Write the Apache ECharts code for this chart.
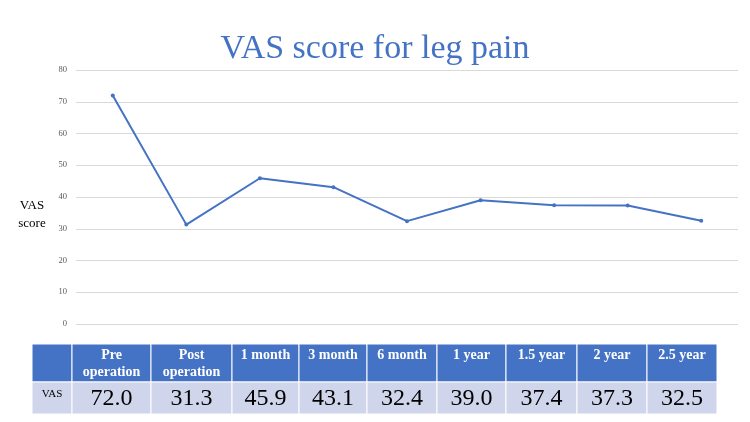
<!DOCTYPE html>
<html>
<head>
<meta charset="utf-8">
<script src="https://cdn.jsdelivr.net/npm/echarts@6/dist/echarts.min.js"></script>
<style>
html,body{margin:0;padding:0;background:#fff;}
#c{width:750px;height:422px;}
</style>
</head>
<body>
<div id="c"></div>
<script>
var categories = ['Pre operation', 'Post operation', '1 month', '3 month', '6 month', '1 year', '1.5 year', '2 year', '2.5 year'];
var headerLabels = ['Pre\noperation', 'Post\noperation', '1 month', '3 month', '6 month', '1 year', '1.5 year', '2 year', '2.5 year'];
var vasValues = [72.0, 31.3, 45.9, 43.1, 32.4, 39.0, 37.4, 37.3, 32.5];
var yTicks = [0, 10, 20, 30, 40, 50, 60, 70, 80];
var rowLabel = 'VAS';

var SERIF = '"Liberation Serif", "DejaVu Serif", serif';
var BLUE = '#4472C4';

// table layout
var tableLeft = 32, tableTop = 344, headH = 38, rowH = 32;
var colW = [40, 79, 81, 67, 68, 70, 69, 71, 70, 70];

var graphics = [];
var x = tableLeft;
for (var i = 0; i < colW.length; i++) {
  graphics.push({type: 'rect', shape: {x: x, y: tableTop, width: colW[i], height: headH},
    style: {fill: BLUE, stroke: '#fff', lineWidth: 1}});
  graphics.push({type: 'rect', shape: {x: x, y: tableTop + headH, width: colW[i], height: rowH},
    style: {fill: '#CFD5EA', stroke: '#fff', lineWidth: 1}});
  if (i === 0) {
    graphics.push({type: 'text', x: x + colW[i] / 2, y: tableTop + headH + 12,
      style: {text: rowLabel, fontFamily: SERIF, fontSize: 11, fill: '#000', align: 'center', verticalAlign: 'middle'}});
  } else {
    graphics.push({type: 'text', x: x + colW[i] / 2, y: tableTop + 3,
      style: {text: headerLabels[i - 1], fontFamily: SERIF, fontSize: 14, fontWeight: 'bold', fill: '#fff',
        align: 'center', verticalAlign: 'top', lineHeight: 17}});
    graphics.push({type: 'text', x: x + colW[i] / 2, y: tableTop + headH + rowH / 2 + 1,
      style: {text: vasValues[i - 1].toFixed(1), fontFamily: SERIF, fontSize: 24, fill: '#000',
        align: 'center', verticalAlign: 'middle'}});
  }
  x += colW[i];
}
graphics.push({type: 'text', x: 32, y: 215,
  style: {text: 'VAS\nscore', fontFamily: SERIF, fontSize: 13, fill: '#000', align: 'center', verticalAlign: 'middle', lineHeight: 18}});

var chart = echarts.init(document.getElementById('c'));
chart.setOption({
  backgroundColor: '#fff',
  animation: false,
  title: {
    text: 'VAS score for leg pain', left: 'center', top: 27,
    textStyle: {fontFamily: SERIF, fontSize: 34, fontWeight: 'normal', color: BLUE}
  },
  grid: {left: 76, right: 12, top: 70, bottom: 98},
  xAxis: {
    type: 'category', data: categories, boundaryGap: true,
    axisLine: {show: false}, axisTick: {show: false}, axisLabel: {show: false}
  },
  yAxis: {
    type: 'value', min: yTicks[0], max: yTicks[yTicks.length - 1], interval: yTicks[1] - yTicks[0],
    axisLine: {show: false}, axisTick: {show: false},
    axisLabel: {fontFamily: SERIF, fontSize: 8.5, color: '#595959', margin: 9},
    splitLine: {lineStyle: {color: '#D9D9D9', width: 1}}
  },
  series: [{
    type: 'line', data: vasValues,
    lineStyle: {color: BLUE, width: 2},
    itemStyle: {color: BLUE},
    symbol: 'circle', symbolSize: 4
  }],
  graphic: graphics
});
</script>
</body>
</html>
